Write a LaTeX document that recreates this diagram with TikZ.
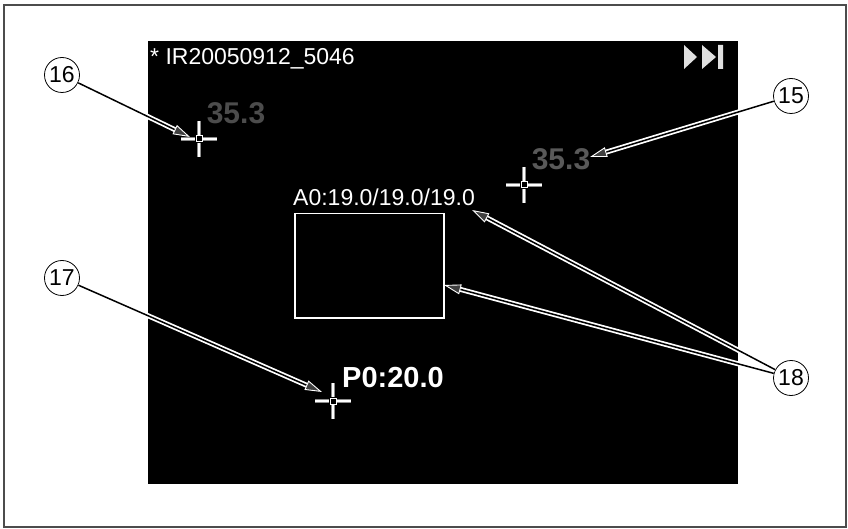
\documentclass[tikz,border=0pt]{standalone}
\usepackage{fontspec}
\setmainfont{Liberation Sans}
\usetikzlibrary{arrows.meta}

\begin{document}
\begin{tikzpicture}[x=1pt, y=-1pt,
    num/.style={draw, circle, minimum size=35pt, inner sep=0pt, line width=0.8pt, font=\fontsize{23}{23}\selectfont},
    lead/.style={black, line width=1.5pt,
        preaction={draw=white, line width=5pt, arrows=-, shorten >=13pt},
        -{Triangle[length=17pt, width=10pt, fill=black!75, color=white, line width=0.9pt]}},
    scr/.style={text=white, font=\fontsize{23}{23}\selectfont, anchor=base west, inner sep=0pt},
    spot/.style={text=black!65, font=\bfseries\fontsize{30}{30}\selectfont, inner sep=0pt},
    xhair/.pic={
        \draw[black!45, line width=3.2pt] (-18,0) -- (-4,0) (4,0) -- (18,0) (0,-18) -- (0,-4) (0,4) -- (0,18);
        \draw[white, line width=1.6pt] (-18,0) -- (-4,0) (4,0) -- (18,0) (0,-18) -- (0,-4) (0,4) -- (0,18);
        \draw[white, line width=1pt] (-3,-3) rectangle (3,3);
    }
]
\useasboundingbox (0,0) rectangle (848,529);
\draw[black!70, line width=1.5pt] (4,5) rectangle (846,527);
\fill[black] (148,41) rectangle (738,484);

% screen
\node[scr] (file) at (150,65) {* IR20050912\_5046};
\fill[black!12] (684,45) -- (697,57) -- (684,69) -- cycle
    (702,45) -- (716,57) -- (702,69) -- cycle
    (718,45) rectangle (723,69);

\pic at (199,139) {xhair};
\node[spot, text=black!70] (spot1) at (236,113) {35.3};
\pic at (524,185) {xhair};
\node[spot] (spot2) at (561,159) {35.3};

\node[scr] (area label) at (293,206) {A0:19.0/19.0/19.0};
\node[draw=white, line width=1.5pt, minimum width=149pt, minimum height=104pt, inner sep=0pt, anchor=north west] (area) at (294,213) {};

\pic at (333,401) {xhair};
\node[scr, font=\bfseries\fontsize{29}{29}\selectfont] (point) at (342,387) {P0:20.0};

% callouts
\node[num] (c16) at (62,75) {16};
\node[num] (c15) at (791,96) {15};
\node[num] (c17) at (62,278) {17};
\node[num] (c18) at (791,378) {18};

\coordinate (t16) at (190,137);
\coordinate (t15) at (590,157);
\coordinate (t17) at (322,392);
\coordinate (t18a) at (472,210);
\coordinate (t18b) at (444,285);

\draw[lead] (c16) -- (t16);
\draw[lead] (c15) -- (t15);
\draw[lead] (c17) -- (t17);
\draw[lead] (c18) -- (t18a);
\draw[lead] (c18) -- (t18b);
\end{tikzpicture}
\end{document}
